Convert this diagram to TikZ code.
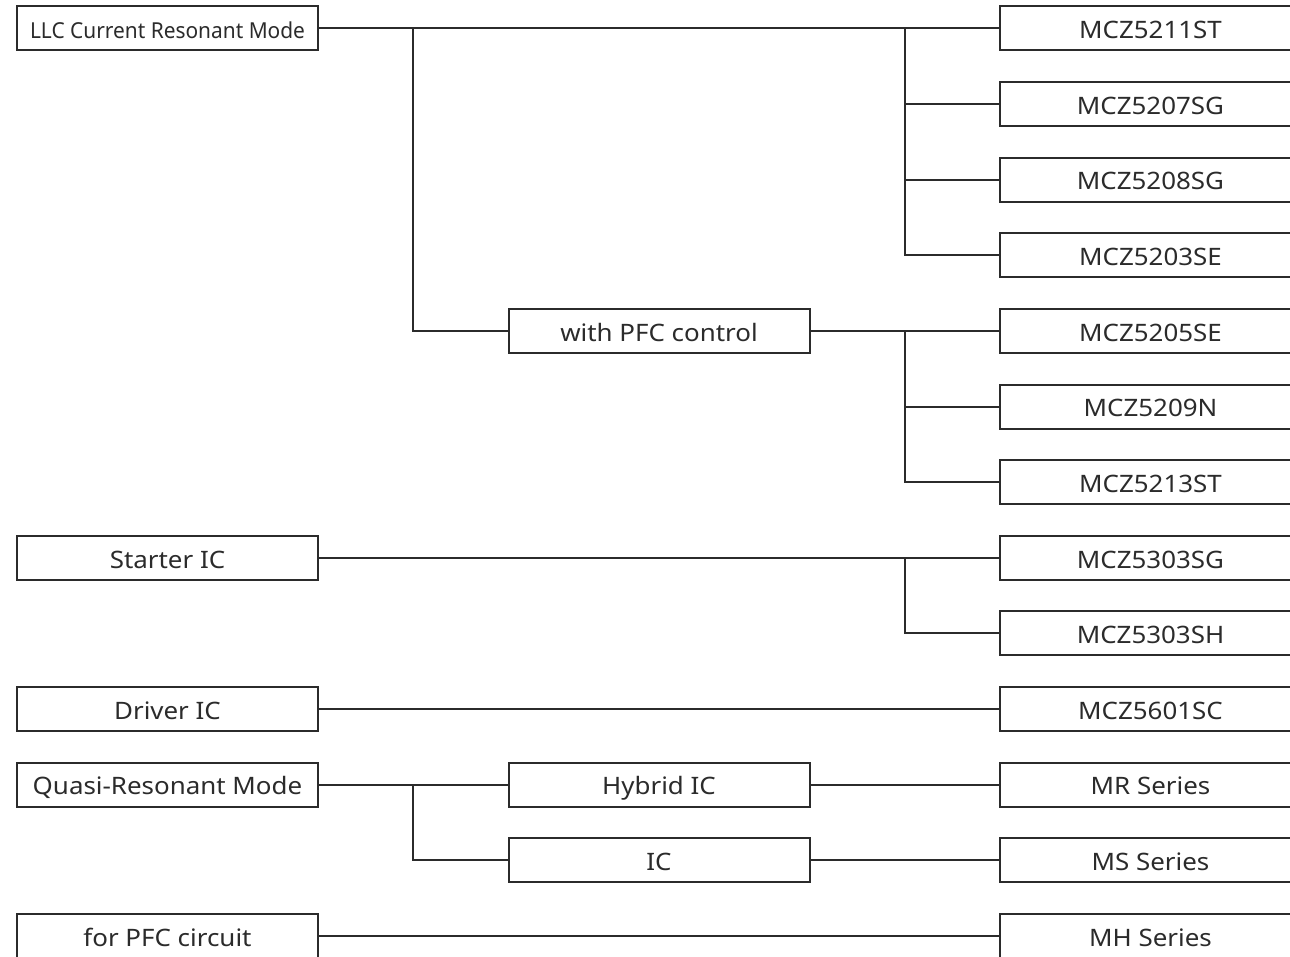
\documentclass[tikz,border=0pt]{standalone}
\usepackage{fontspec}
\setmainfont{Noto Sans}[FakeStretch=1.08]
\newfontfamily\llcfont{Noto Sans}[FakeStretch=0.95]
\definecolor{inkgray}{HTML}{2B2B2B}
\begin{document}
\begin{tikzpicture}[
    x=0.5pt, y=-0.5pt,
    box/.style={draw=inkgray, line width=1pt, minimum width=150.5pt,
                minimum height=22pt, inner sep=0pt, text=inkgray,
                text height=12.3pt, text depth=2pt,
                font=\fontsize{12}{14}\selectfont},
    wire/.style={draw=inkgray, line width=1pt}
]
\useasboundingbox (0,0) rectangle (1290,957);
\clip (0,0) rectangle (1290,957);

\node[box, font=\llcfont\fontsize{11}{13}\selectfont] (llc) at (167.5, 28.5) {LLC Current Resonant Mode};
\node[box] (starter)  at ( 167.5, 557.7) {Starter IC};
\node[box] (driver)   at ( 167.5, 708.9) {Driver IC};
\node[box] (quasi)    at ( 167.5, 784.5) {Quasi-Resonant Mode};
\node[box] (pfc)      at ( 167.5, 935.7) {for PFC circuit};

\node[box] (wpfc)     at ( 659,   330.9) {with PFC control};
\node[box] (hybrid)   at ( 659,   784.5) {Hybrid IC};
\node[box] (ic)       at ( 659,   860.1) {IC};

\node[box] (m5211)    at (1150.5,  28.5) {MCZ5211ST};
\node[box] (m5207)    at (1150.5, 104.1) {MCZ5207SG};
\node[box] (m5208)    at (1150.5, 179.7) {MCZ5208SG};
\node[box] (m5203)    at (1150.5, 255.3) {MCZ5203SE};
\node[box] (m5205)    at (1150.5, 330.9) {MCZ5205SE};
\node[box] (m5209)    at (1150.5, 406.5) {MCZ5209N};
\node[box] (m5213)    at (1150.5, 482.1) {MCZ5213ST};
\node[box] (m5303sg)  at (1150.5, 557.7) {MCZ5303SG};
\node[box] (m5303sh)  at (1150.5, 633.3) {MCZ5303SH};
\node[box] (m5601)    at (1150.5, 708.9) {MCZ5601SC};
\node[box] (mr)       at (1150.5, 784.5) {MR Series};
\node[box] (ms)       at (1150.5, 860.1) {MS Series};
\node[box] (mh)       at (1150.5, 935.7) {MH Series};

\coordinate (llcbus)   at (413, 28.5);
\coordinate (mczbus)   at (905, 28.5);
\coordinate (wpfcbus)  at (905, 330.9);
\coordinate (startbus) at (905, 557.7);
\coordinate (quasibus) at (413, 784.5);

\draw[wire] (llc)      -- (m5211);
\draw[wire] (llcbus)   |- (wpfc);
\draw[wire] (mczbus)   |- (m5207);
\draw[wire] (mczbus)   |- (m5208);
\draw[wire] (mczbus)   |- (m5203);
\draw[wire] (wpfc)     -- (m5205);
\draw[wire] (wpfcbus)  |- (m5209);
\draw[wire] (wpfcbus)  |- (m5213);
\draw[wire] (starter)  -- (m5303sg);
\draw[wire] (startbus) |- (m5303sh);
\draw[wire] (driver)   -- (m5601);
\draw[wire] (quasi)    -- (hybrid);
\draw[wire] (hybrid)   -- (mr);
\draw[wire] (quasibus) |- (ic);
\draw[wire] (ic)       -- (ms);
\draw[wire] (pfc)      -- (mh);
\end{tikzpicture}
\end{document}
